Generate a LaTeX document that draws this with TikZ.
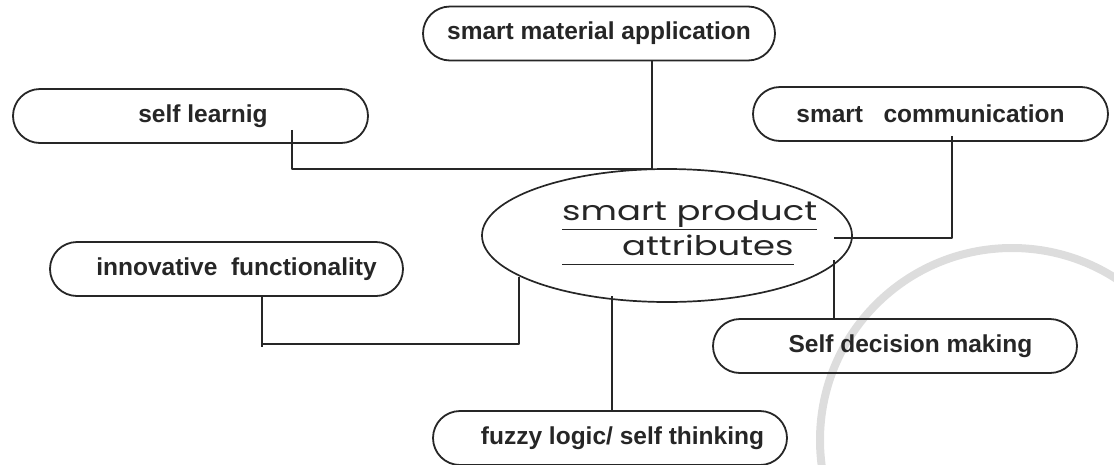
\documentclass[tikz,border=0pt]{standalone}
\usepackage{fontspec}
\setmainfont{Liberation Sans}
\newfontfamily\hubfont{Poppins}[FakeStretch=1.31]
\usetikzlibrary{shapes.geometric}
\definecolor{ink}{RGB}{38,38,38}
\newcommand{\ulp}[1]{\underline{\vphantom{p}#1}}

\begin{document}
\begin{tikzpicture}[x=1pt, y=-1pt, line join=round,
  pill/.style={draw=ink, line width=1.8pt, rounded corners=27pt, minimum height=54pt,
    inner sep=0pt, text=ink, font=\fontsize{24.5}{28}\selectfont\bfseries},
  hub/.style={draw=ink, ellipse, line width=1.7pt, minimum width=370pt,
    minimum height=133pt, inner sep=0pt},
  link/.style={draw=ink, line width=1.2pt}]
\useasboundingbox (0,0) rectangle (1114,464);
\begin{scope}
\clip (0,0) rectangle (1114,464);
\draw[gray!27, line width=8pt] (1012,440) circle[radius=192];
\end{scope}

\node[hub] (hub) at (667,235.5) {};
\node[font=\hubfont\fontsize{27}{35}\selectfont, align=left, anchor=west,
  inner sep=0pt, text=ink] (hubtxt) at (562,233)
  {\ulp{smart product}\\\ulp{\hspace*{60pt}attributes}};

\node[pill, minimum width=352pt] (mat) at (599,33.5) {smart material application};
\node[pill, minimum width=355pt] (learn) at (190.5,116) {\hspace*{25pt}self learnig};
\node[pill, minimum width=355pt] (comm) at (930.5,114) {smart\ \ \ communication};
\node[pill, minimum width=353pt] (innov) at (226.5,269) {\hspace*{20pt}innovative\ \ functionality};
\node[pill, minimum width=364pt] (decide) at (895,346) {\hspace*{31pt}Self decision making};
\node[pill, minimum width=354pt] (fuzzy) at (610,438) {\hspace*{25pt}fuzzy logic/ self thinking};

\coordinate (top) at (652,169);
\coordinate (rt) at (834,238);
\coordinate (rb) at (834,260);
\coordinate (lb) at (519,277);
\coordinate (bt) at (612,296);

\draw[link] (top |- mat.south) -- (top);
\draw[link] ([xshift=101.5pt, yshift=14pt]learn.south) |- (top);
\draw[link] ([xshift=21.5pt, yshift=6pt]comm.south) |- (rt);
\draw[link] (rb) -- (rb |- decide.north);
\draw[link] ([xshift=35.5pt]innov.south) -- ++(0,50);
\draw[link] ([xshift=35.5pt]innov.south) ++(0,47) -| (lb);
\draw[link] (bt) -- (bt |- fuzzy.north);
\end{tikzpicture}
\end{document}
